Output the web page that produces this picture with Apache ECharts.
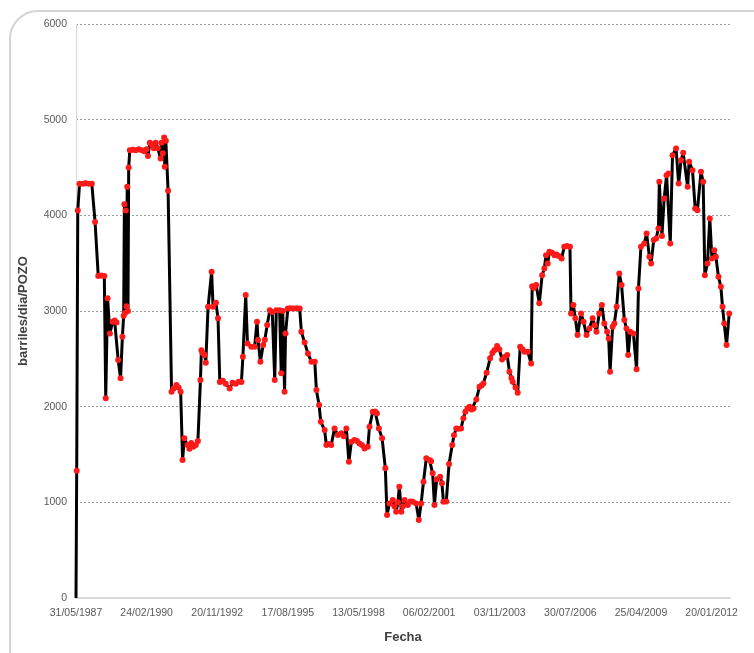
<!DOCTYPE html>
<html>
<head>
<meta charset="utf-8">
<script src="https://cdn.jsdelivr.net/npm/echarts@6/dist/echarts.min.js"></script>
<style>
    html, body { margin: 0; padding: 0; background: #fff; }
    #chart { width: 754px; height: 653px; }
</style>
</head>
<body>
<div id="chart"></div>
<script>
// fechas de medición y producción (barriles/dia/POZO)
const fechas = [
    '1987-05-31','1987-06-10','1987-06-25','1987-07-20','1987-09-05','1987-10-15','1987-11-30',
    '1988-01-10','1988-02-25','1988-04-10','1988-05-25','1988-07-05','1988-07-25','1988-08-20','1988-09-22','1988-10-30','1988-11-28','1988-12-25',
    '1989-01-17','1989-02-20','1989-03-18','1989-04-05','1989-04-15','1989-04-25','1989-05-05','1989-05-15','1989-05-25','1989-06-05','1989-06-15','1989-07-01','1989-08-12','1989-09-25','1989-11-05','1989-12-18',
    '1990-01-22','1990-02-23','1990-03-15','1990-04-10','1990-05-07','1990-06-05','1990-07-03','1990-08-01','1990-09-10','1990-09-23','1990-10-10','1990-10-30','1990-11-08','1990-11-23','1990-12-25',
    '1991-02-12','1991-03-14','1991-04-22','1991-05-22','1991-06-21','1991-07-18','1991-08-12','1991-09-25','1991-10-22','1991-11-18','1991-12-16',
    '1992-01-21','1992-02-20','1992-03-27','1992-04-10','1992-04-25','1992-05-27','1992-06-11','1992-07-13','1992-09-01','1992-09-22','1992-11-01','1992-12-01','1992-12-26',
    '1993-02-06','1993-03-19','1993-05-15','1993-06-26','1993-08-08','1993-09-20','1993-10-28','1993-11-18','1993-12-28',
    '1994-01-22','1994-03-17','1994-05-03','1994-06-06','1994-06-20','1994-07-24','1994-09-01','1994-09-25','1994-10-28','1994-12-04',
    '1995-01-08','1995-02-12','1995-03-06','1995-04-22','1995-05-15','1995-06-05','1995-07-01','1995-07-15','1995-08-17','1995-09-24','1995-11-05','1995-12-18',
    '1996-01-31','1996-02-24','1996-04-10','1996-05-27','1996-07-15','1996-09-01','1996-09-24','1996-11-01','1996-11-25',
    '1997-01-18','1997-02-12','1997-03-14','1997-04-22','1997-06-08','1997-07-25','1997-09-12','1997-10-16','1997-11-22','1997-12-28',
    '1998-02-01','1998-03-17','1998-04-22','1998-05-27','1998-07-01','1998-08-06','1998-09-22','1998-10-16','1998-12-01',
    '1999-01-03','1999-01-29','1999-02-25','1999-04-12','1999-05-28','1999-06-21','1999-07-24','1999-09-10','1999-10-03','1999-10-28','1999-11-22','1999-12-12',
    '2000-01-10','2000-02-01','2000-02-25','2000-04-10','2000-05-16','2000-06-21','2000-08-06','2000-09-13','2000-10-16','2000-11-18','2000-12-28',
    '2001-02-12','2001-03-06','2001-03-28','2001-04-22','2001-05-24','2001-07-12','2001-08-06','2001-08-28','2001-10-07','2001-11-15','2001-12-30',
    '2002-01-24','2002-02-25','2002-03-28','2002-05-04','2002-06-06','2002-07-04','2002-08-03','2002-09-01','2002-10-01','2002-10-28','2002-12-06',
    '2003-01-20','2003-02-18','2003-03-16','2003-05-01','2003-06-19','2003-07-21','2003-08-18','2003-09-26','2003-10-28','2003-12-06',
    '2004-01-10','2004-02-16','2004-03-19','2004-04-16','2004-05-04','2004-06-13','2004-07-14','2004-08-18','2004-09-19','2004-10-19','2004-12-04',
    '2005-01-20','2005-02-04','2005-03-01','2005-04-01','2005-05-16','2005-06-25','2005-07-26','2005-08-19','2005-09-12','2005-10-06','2005-11-12','2005-12-17',
    '2006-01-13','2006-02-15','2006-03-28','2006-05-04','2006-06-09','2006-07-24','2006-08-08','2006-09-10','2006-10-08','2006-11-09','2006-12-28',
    '2007-02-01','2007-03-16','2007-04-25','2007-06-10','2007-07-10','2007-08-03','2007-09-12','2007-10-19','2007-11-22',
    '2008-01-01','2008-01-23','2008-02-12','2008-03-19','2008-04-12','2008-05-15','2008-06-21','2008-07-24','2008-09-01','2008-10-01','2008-10-25','2008-11-22',
    '2009-01-07','2009-02-21','2009-03-20','2009-04-24','2009-06-10','2009-07-13','2009-08-22','2009-09-15','2009-10-22','2009-11-25','2009-12-28',
    '2010-01-09','2010-02-15','2010-03-19','2010-04-22','2010-05-19','2010-06-13','2010-07-15','2010-09-03','2010-10-10','2010-11-13','2010-12-13',
    '2011-02-14','2011-03-07','2011-04-24','2011-06-01','2011-07-03','2011-08-22','2011-09-22','2011-10-16','2011-11-22','2011-12-25',
    '2012-01-24','2012-02-26','2012-03-20','2012-04-26','2012-05-30','2012-06-22','2012-07-16','2012-08-18','2012-09-25'
];

const valores = [
    0, 1330, 4050, 4330, 4330, 4335, 4330,
    4330, 3930, 3365, 3370, 3365, 2087, 3132, 2766, 2888, 2900, 2880,
    2487, 2296, 2731, 2950, 4117, 2980, 4050, 3050, 4300, 3000, 4500, 4681, 4685, 4680, 4690, 4680,
    4670, 4690, 4619, 4758, 4740, 4700, 4760, 4700, 4595, 4758, 4650, 4814, 4507, 4780, 4256,
    2156, 2190, 2226, 2200, 2156, 1442, 1669, 1600, 1560, 1620, 1580,
    1600, 1640, 2278, 2591, 2560, 2539, 2459, 3044, 3410, 3044, 3086, 2923, 2257,
    2270, 2240, 2191, 2250, 2240, 2260, 2257, 2522, 3166,
    2661, 2626, 2626, 2888, 2696, 2469, 2644, 2700, 2853, 3009,
    2990, 2278, 3009, 3009, 2348, 3000, 2156, 2766, 3027, 3030, 3025, 3030,
    3027, 2783, 2670, 2557, 2469, 2469, 2173, 2017, 1842,
    1755, 1599, 1610, 1599, 1773, 1703, 1721, 1690, 1773, 1425,
    1633, 1651, 1640, 1616, 1600, 1564, 1581, 1791, 1947,
    1950, 1930, 1773, 1669, 1355, 867, 989, 1024, 960, 902, 1000, 1163,
    902, 960, 1024, 972, 1010, 1006, 989, 815, 989, 1215, 1460,
    1442, 1430, 1303, 972, 1240, 1268, 1200, 1006, 1010, 1400, 1599,
    1700, 1773, 1770, 1773, 1880, 1947, 1980, 1999, 1970, 1982, 2076,
    2208, 2220, 2243, 2354, 2505, 2560, 2591, 2633, 2600, 2494,
    2520, 2539, 2365, 2300, 2260, 2200, 2145, 2626, 2600, 2574, 2574,
    2452, 3260, 3240, 3271, 3080, 3375, 3445, 3584, 3497, 3619, 3610, 3584,
    3590, 3574, 3549, 3671, 3680, 3671, 2975, 3062, 2923, 2748, 2975,
    2888, 2748, 2818, 2923, 2850, 2783, 2975, 3062, 2870,
    2783, 2713, 2365, 2836, 2870, 3044, 3393, 3271, 2905, 2818, 2539, 2783,
    2766, 2390, 3236, 3671, 3706, 3810, 3566, 3497, 3741, 3758, 3863,
    4350, 3783, 4177, 4420, 4437, 3706, 4629, 4699, 4333, 4577, 4653,
    4298, 4560, 4472, 4072, 4054, 4455, 4350, 3375, 3497, 3968,
    3549, 3636, 3566, 3357, 3253, 3044, 2870, 2644, 2975
];

// eje x: días desde la primera fecha, marcas cada 1000 días
const fechaInicio = '1987-05-31';
const pasoDias = 1000;
const diasMax = 9260;
const yTicks = [0, 1000, 2000, 3000, 4000, 5000, 6000];

const t0 = Date.parse(fechaInicio + 'T00:00:00Z');
const dia = (s) => Math.round((Date.parse(s + 'T00:00:00Z') - t0) / 864e5);
const pad = (n) => (n < 10 ? '0' : '') + n;
const fmtFecha = (d) => {
    const f = new Date(t0 + d * 864e5);
    return pad(f.getUTCDate()) + '/' + pad(f.getUTCMonth() + 1) + '/' + f.getUTCFullYear();
};

// el primer punto (0) no lleva marcador
const serie = fechas.map((f, i) => {
    const p = { value: [dia(f), valores[i]] };
    if (valores[i] === 0) p.symbol = 'none';
    return p;
});

const chartInit = () => {
    let myChart = echarts.init(document.getElementById('chart'));
    let option = {
        backgroundColor: '#fff',
        animation: false,
        textStyle: { fontFamily: 'Liberation Sans' },
        graphic: [{
            type: 'rect',
            z: -10,
            shape: { x: 10, y: 11, width: 820, height: 720, r: 28 },
            style: { fill: 'none', stroke: '#d4d4d4', lineWidth: 2 }
        }],
        grid: {
            left: 76,
            right: 24,
            top: 24,
            bottom: 55
        },
        xAxis: {
            type: 'value',
            min: 0,
            max: diasMax,
            interval: pasoDias,
            name: 'Fecha',
            nameLocation: 'middle',
            nameGap: 33,
            nameTextStyle: { fontSize: 13, fontWeight: 'bold', color: '#404040' },
            axisLine: { show: true, lineStyle: { color: '#d9d9d9', width: 2 } },
            axisTick: { show: false },
            splitLine: { show: false },
            axisLabel: {
                showMaxLabel: false,
                color: '#595959',
                fontSize: 10.5,
                margin: 10,
                formatter: (v) => fmtFecha(v)
            }
        },
        yAxis: {
            type: 'value',
            min: yTicks[0],
            max: yTicks[yTicks.length - 1],
            interval: yTicks[1] - yTicks[0],
            name: 'barriles/dia/POZO',
            nameLocation: 'middle',
            nameGap: 46,
            nameTextStyle: { fontSize: 13, fontWeight: 'bold', color: '#404040' },
            axisLine: { show: true, lineStyle: { color: '#d9d9d9', width: 1 } },
            axisTick: { show: false },
            axisLabel: { color: '#595959', fontSize: 10.5, margin: 9, formatter: (v) => String(v) },
            splitLine: {
                show: true,
                lineStyle: { color: '#9a9a9a', type: [2, 2], width: 1 }
            }
        },
        series: [{
            type: 'line',
            data: serie,
            symbol: 'circle',
            symbolSize: 6,
            showAllSymbol: true,
            lineStyle: { color: '#000', width: 3 },
            itemStyle: { color: '#ff1a1a', borderWidth: 0 }
        }]
    };
    myChart.setOption(option);
};

chartInit();
</script>
</body>
</html>
